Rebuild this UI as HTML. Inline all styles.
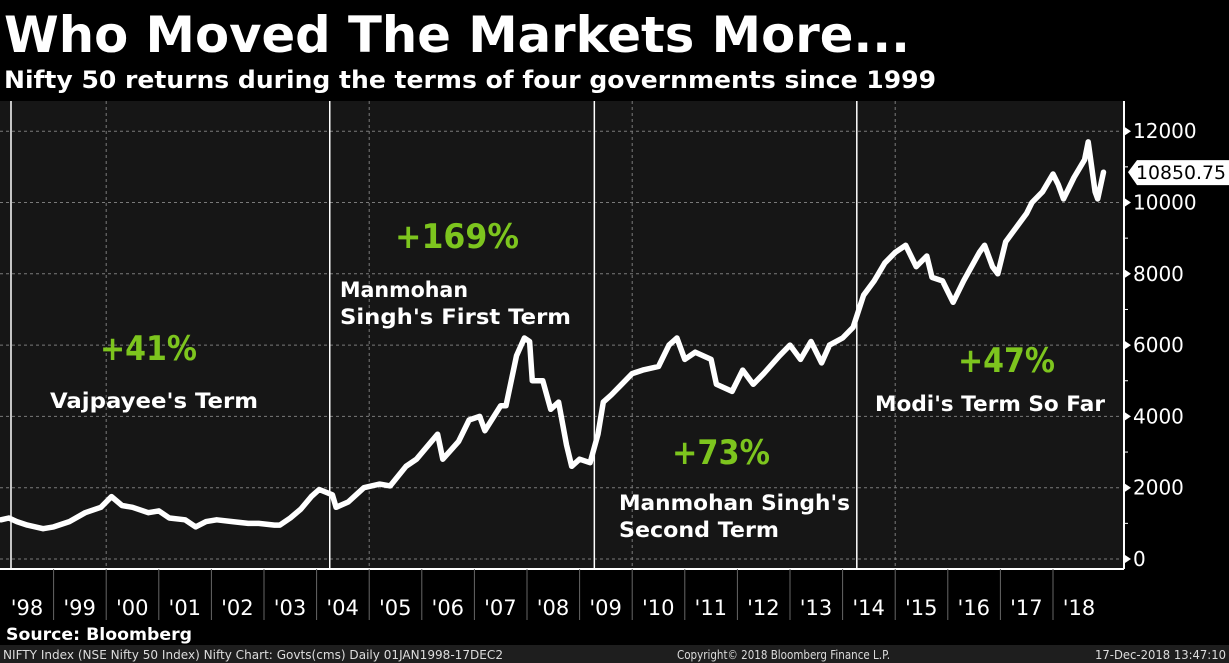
<!DOCTYPE html>
<html><head><meta charset="utf-8"><style>
html,body{margin:0;padding:0;background:#000;width:1229px;height:663px;overflow:hidden}
svg{display:block}
text{font-family:"DejaVu Sans","Liberation Sans",sans-serif}
</style></head><body>
<svg id="chart" width="1229" height="663" xmlns="http://www.w3.org/2000/svg">
<rect x="0" y="0" width="1229" height="663" fill="#000"/>
<text x="4" y="52" fill="#fff" font-size="50" font-weight="bold" textLength="906" lengthAdjust="spacingAndGlyphs">Who Moved The Markets More...</text>
<text x="4" y="88" fill="#fff" font-size="24" font-weight="bold" textLength="932" lengthAdjust="spacingAndGlyphs">Nifty 50 returns during the terms of four governments since 1999</text>
<rect x="0" y="101" width="1124" height="468" fill="#161616"/>
<g id="grid"></g>
<g id="terms"></g>
<path id="series" fill="none" stroke="#fff" stroke-width="5.5" stroke-linejoin="round" stroke-linecap="round"/>
<line x1="0" y1="569" x2="1124" y2="569" stroke="#fff" stroke-width="2"/>
<line x1="1124" y1="101" x2="1124" y2="569" stroke="#fff" stroke-width="2"/>
<g id="yaxis"></g>
<g id="xaxis"></g>
<g id="lastprice"></g>
<g font-weight="bold">
<text x="100" y="360" fill="#7dc51e" font-size="34" textLength="97" lengthAdjust="spacingAndGlyphs">+41%</text>
<text x="50" y="408" fill="#fff" font-size="21" textLength="208" lengthAdjust="spacingAndGlyphs">Vajpayee's Term</text>
<text x="395" y="248" fill="#7dc51e" font-size="34" textLength="124" lengthAdjust="spacingAndGlyphs">+169%</text>
<text x="340" y="297" fill="#fff" font-size="21" textLength="128" lengthAdjust="spacingAndGlyphs">Manmohan</text>
<text x="340" y="324" fill="#fff" font-size="21" textLength="231" lengthAdjust="spacingAndGlyphs">Singh's First Term</text>
<text x="672" y="464" fill="#7dc51e" font-size="34" textLength="98" lengthAdjust="spacingAndGlyphs">+73%</text>
<text x="619" y="510" fill="#fff" font-size="21" textLength="231" lengthAdjust="spacingAndGlyphs">Manmohan Singh's</text>
<text x="619" y="537" fill="#fff" font-size="21" textLength="160" lengthAdjust="spacingAndGlyphs">Second Term</text>
<text x="958" y="372" fill="#7dc51e" font-size="34" textLength="97" lengthAdjust="spacingAndGlyphs">+47%</text>
<text x="875" y="411" fill="#fff" font-size="21" textLength="230" lengthAdjust="spacingAndGlyphs">Modi's Term So Far</text>
</g>
<text x="6" y="640" fill="#fff" font-size="17" font-weight="bold" textLength="186" lengthAdjust="spacingAndGlyphs">Source: Bloomberg</text>
<rect x="0" y="645" width="1229" height="18" fill="#1e1e1e"/>
<text x="3" y="659" fill="#ddd" font-size="12" textLength="500" lengthAdjust="spacingAndGlyphs">NIFTY Index (NSE Nifty 50 Index) Nifty Chart: Govts(cms)  Daily 01JAN1998-17DEC2</text>
<text x="677" y="659" fill="#ddd" font-size="12" textLength="213" lengthAdjust="spacingAndGlyphs">Copyright© 2018 Bloomberg Finance L.P.</text>
<text x="1226" y="659" fill="#ddd" font-size="12" text-anchor="end" textLength="131" lengthAdjust="spacingAndGlyphs">17-Dec-2018 13:47:10</text>
</svg>
<script>
const dates = [1998.0,1998.15,1998.3,1998.5,1998.8,1999.0,1999.3,1999.6,1999.9,2000.1,2000.3,2000.5,2000.8,2001.0,2001.2,2001.5,2001.7,2001.9,2002.1,2002.4,2002.7,2002.9,2003.2,2003.3,2003.5,2003.7,2003.9,2004.05,2004.3,2004.37,2004.6,2004.9,2005.2,2005.4,2005.7,2005.9,2006.3,2006.4,2006.7,2006.9,2007.1,2007.2,2007.5,2007.6,2007.8,2007.95,2008.05,2008.1,2008.3,2008.45,2008.6,2008.75,2008.85,2009.0,2009.2,2009.35,2009.45,2009.6,2009.8,2010.0,2010.2,2010.5,2010.7,2010.85,2011.0,2011.2,2011.5,2011.6,2011.9,2012.1,2012.3,2012.5,2012.8,2013.0,2013.2,2013.4,2013.6,2013.75,2014.0,2014.2,2014.4,2014.6,2014.8,2015.0,2015.2,2015.4,2015.6,2015.7,2015.9,2016.1,2016.3,2016.6,2016.7,2016.85,2016.95,2017.1,2017.3,2017.5,2017.6,2017.8,2018.0,2018.1,2018.2,2018.4,2018.6,2018.67,2018.8,2018.85,2018.96];
const values = [1100,1150,1050,950,850,900,1050,1300,1450,1750,1500,1450,1300,1350,1150,1100,900,1050,1100,1050,1000,1000,950,950,1150,1400,1750,1950,1800,1450,1600,2000,2100,2050,2600,2800,3500,2800,3300,3900,4000,3600,4300,4300,5700,6200,6100,5000,5000,4200,4400,3200,2600,2800,2700,3500,4400,4600,4900,5200,5300,5400,6000,6200,5600,5800,5600,4900,4700,5300,4900,5200,5700,6000,5600,6100,5500,6000,6200,6500,7400,7800,8300,8600,8800,8200,8500,7900,7800,7200,7800,8600,8800,8200,8000,8900,9300,9700,10000,10300,10800,10500,10100,10700,11200,11700,10300,10100,10850];
const yTicks = [0,2000,4000,6000,8000,10000,12000];
const yearLabels = ["'98","'99","'00","'01","'02","'03","'04","'05","'06","'07","'08","'09","'10","'11","'12","'13","'14","'15","'16","'17","'18"];
const termStarts = [1998.19,2004.25,2009.28,2014.27];
const gridYears = [2000,2005,2010,2015];
const lastPrice = 10850.75;

const NS="http://www.w3.org/2000/svg";
function xs(t){return 1+52.6*(t-1998);}
function ys(v){return 559-v*(71.3/2000);}
function mk(tag,attrs,parent){const e=document.createElementNS(NS,tag);for(const k in attrs)e.setAttribute(k,attrs[k]);parent.appendChild(e);return e;}

const grid=document.getElementById('grid');
yTicks.forEach(v=>{
 const l=mk('line',{x1:0,x2:1122,y1:ys(v),y2:ys(v),stroke:'#7a7a7a','stroke-width':1,'stroke-dasharray':'3,3'},grid);
 
 
});
gridYears.forEach(t=>{
 const l=mk('line',{x1:xs(t),x2:xs(t),y1:101,y2:568,stroke:'#7a7a7a','stroke-width':1,'stroke-dasharray':'3,3'},grid);
 
 
});
const terms=document.getElementById('terms');
termStarts.forEach(t=>{
 const l=mk('line',{x1:xs(t),x2:xs(t),y1:101,y2:568,stroke:'#fff','stroke-width':1.5},terms);
 
 
});
let d='';
dates.forEach((t,i)=>{d+=(i?'L':'M')+xs(t).toFixed(1)+' '+ys(values[i]).toFixed(1);});
document.getElementById('series').setAttribute('d',d);

const ya=document.getElementById('yaxis');
yTicks.forEach(v=>{
 const y=ys(v);
 mk('path',{d:`M1125 ${y-4}L1131 ${y}L1125 ${y+4}Z`,fill:'#fff'},ya);
 const tx=mk('text',{x:1133,y:y+7,fill:'#fff','font-size':20},ya);
 tx.textContent=v;
 
 
});
for(let v=1000;v<12000;v+=2000){mk('line',{x1:1124,x2:1128,y1:ys(v),y2:ys(v),stroke:'#fff'},ya);}

const xa=document.getElementById('xaxis');
yearLabels.forEach((lab,i)=>{
 const x0=xs(1998+i);
 if(i>0) mk('line',{x1:x0,x2:x0,y1:569,y2:620,stroke:'#666','stroke-width':1},xa);
 const tx=mk('text',{x:x0+26,y:615,fill:'#fff','font-size':21,'text-anchor':'middle'},xa);
 tx.textContent=lab;
 
 
});

const lp=document.getElementById('lastprice');
const ly=ys(lastPrice);
mk('path',{d:`M1137 ${ly-12}L1229 ${ly-12}L1229 ${ly+13}L1137 ${ly+13}L1128 ${ly}Z`,fill:'#fff'},lp);
const lt=mk('text',{x:1136,y:ly+7,fill:'#000','font-size':19,textLength:90,lengthAdjust:'spacingAndGlyphs'},lp);
lt.textContent=lastPrice.toFixed(2);


</script>
</body></html>
